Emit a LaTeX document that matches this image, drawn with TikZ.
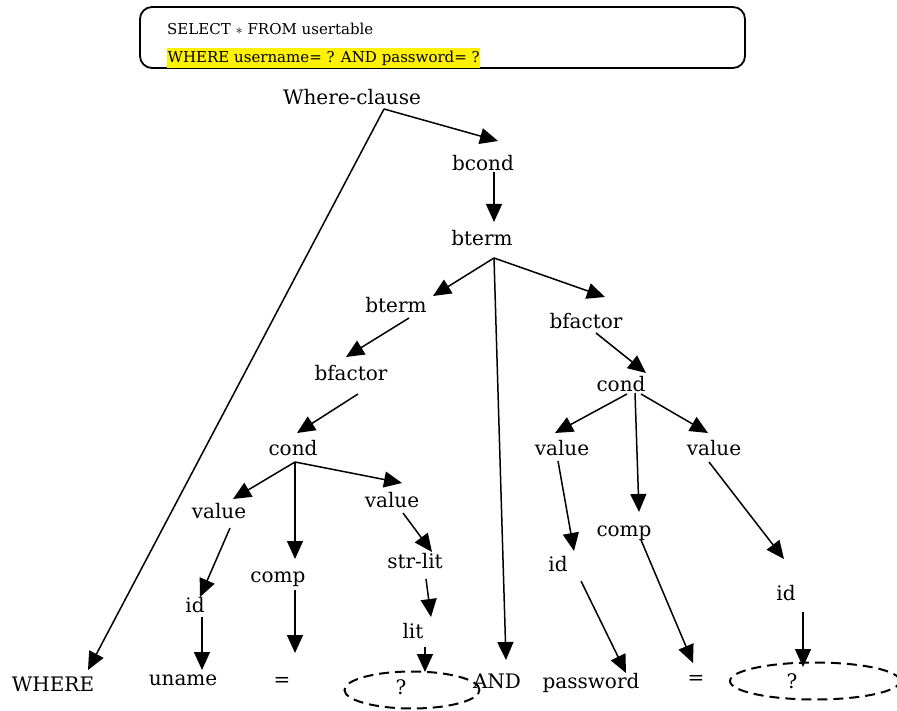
\documentclass[tikz,border=0pt]{standalone}
\usepackage{fontspec}
\setmainfont{DejaVu Serif}
\usetikzlibrary{arrows.meta,shapes.geometric}
\tikzset{
	lbl/.style={font=\fontsize{20}{24}\selectfont, inner sep=0pt, text height=1.5ex, text depth=.3ex},
	sql/.style={font=\fontsize{15}{18}\selectfont, inner sep=1pt, anchor=west},
	arr/.style={-{Triangle[length=18pt,width=16pt]}, line width=1.5pt},
	hole/.style={draw, ellipse, dashed, dash pattern=on 10pt off 6pt, line width=2pt, inner sep=0pt}
}
\begin{document}
\begin{tikzpicture}[x=1pt,y=-1pt]
	\useasboundingbox (0,0) rectangle (897,711);
	% query box
	\node[draw, rounded corners=12pt, line width=1.8pt, minimum width=605pt, minimum height=61pt] (query) at (442.5,37.5) {};
	\node[sql] (sel) at (166,29) {SELECT $\ast$ FROM usertable};
	\node[sql, fill=yellow, inner xsep=0.5pt, inner ysep=2.5pt] (whr) at (167,58) {WHERE username= ? AND password= ?};
	% tree
	\node[lbl] (wc) at (352,101) {Where-clause};
	\node[lbl] (bcond) at (483,167) {bcond};
	\node[lbl] (bt) at (482,242) {bterm};
	\node[lbl] (btl) at (396,309) {bterm};
	\node[lbl] (bfr) at (586,325) {bfactor};
	\node[lbl] (bfl) at (351,377) {bfactor};
	\node[lbl] (condr) at (621,388) {cond};
	\node[lbl] (condl) at (293,452) {cond};
	\node[lbl] (valrl) at (562,452) {value};
	\node[lbl] (valrr) at (714,452) {value};
	\node[lbl] (valll) at (219,515) {value};
	\node[lbl] (vallr) at (392,504) {value};
	\node[lbl] (compr) at (624,533) {comp};
	\node[lbl] (idrl) at (558,568) {id};
	\node[lbl] (strlit) at (415,565) {str-lit};
	\node[lbl] (compl) at (278,579) {comp};
	\node[lbl] (idl) at (195,609) {id};
	\node[lbl] (idrr) at (786,597) {id};
	\node[lbl] (lit) at (413,635) {lit};
	% leaves
	\node[lbl] (where) at (53,688) {WHERE};
	\node[lbl] (uname) at (183,682) {uname};
	\node[lbl] (eql) at (282,683) {=};
	\node[hole, minimum width=135pt, minimum height=37pt] (qa) at (412,690) {};
	\node[lbl] (qma) at (401,691) {?};
	\node[lbl] (and) at (497,685) {AND};
	\node[lbl] (pw) at (591,685) {password};
	\node[lbl] (eqr) at (696,681) {=};
	\node[hole, minimum width=170pt, minimum height=37pt] (qb) at (815,681) {};
	\node[lbl] (qmb) at (792,685) {?};
	% connectors
	\draw [arr] ([shift={(32,8)}]wc.center) -- ([shift={(15,-26)}]bcond.center);
	\draw [arr] ([shift={(32,8)}]wc.center) -- ([shift={(35,-18)}]where.center);
	\draw [arr] ([shift={(11,5)}]bcond.center) -- ([shift={(12,-20)}]bt.center);
	\draw [arr] ([shift={(12,16)}]bt.center) -- ([shift={(37,-13)}]btl.center);
	\draw [arr] ([shift={(12,16)}]bt.center) -- ([shift={(9,-25)}]and.center);
	\draw [arr] ([shift={(12,16)}]bt.center) -- ([shift={(19,-28)}]bfr.center);
	\draw [arr] ([shift={(13,9)}]btl.center) -- ([shift={(-5,-20)}]bfl.center);
	\draw [arr] ([shift={(7,17)}]bfl.center) -- ([shift={(4,-19)}]condl.center);
	\draw [arr] ([shift={(10,8)}]bfr.center) -- ([shift={(25,-15)}]condr.center);
	\draw [arr] ([shift={(2,10)}]condl.center) -- ([shift={(14,-16)}]valll.center);
	\draw [arr] ([shift={(2,10)}]condl.center) -- ([shift={(17,-20)}]compl.center);
	\draw [arr] ([shift={(2,10)}]condl.center) -- ([shift={(10,-21)}]vallr.center);
	\draw [arr] ([shift={(6,6)}]condr.center) -- ([shift={(-7,-19)}]valrl.center);
	\draw [arr] ([shift={(14,5)}]condr.center) -- ([shift={(15,-21)}]compr.center);
	\draw [arr] ([shift={(20,6)}]condr.center) -- ([shift={(-6,-19)}]valrr.center);
	\draw [arr] ([shift={(11,13)}]valll.center) -- ([shift={(5,-12)}]idl.center);
	\draw [arr] ([shift={(7,8)}]idl.center) -- ([shift={(19,-12)}]uname.center);
	\draw [arr] ([shift={(17,11)}]compl.center) -- ([shift={(13,-30)}]eql.center);
	\draw [arr] ([shift={(11,9)}]vallr.center) -- ([shift={(17,-13)}]strlit.center);
	\draw [arr] ([shift={(11,14)}]strlit.center) -- ([shift={(18,-18)}]lit.center);
	\draw [arr] ([shift={(12,12)}]lit.center) -- ([shift={(13,-18)}]qa.center);
	\draw [arr] ([shift={(-4,9)}]valrl.center) -- ([shift={(16,-17)}]idrl.center);
	\draw [arr] ([shift={(-5,10)}]valrr.center) -- ([shift={(-2,-38)}]idrr.center);
	\draw [arr] ([shift={(23,13)}]idrl.center) -- ([shift={(35,-12)}]pw.center);
	\draw [arr] ([shift={(17,7)}]compr.center) -- ([shift={(-3,-18)}]eqr.center);
	\draw [arr] ([shift={(17,15)}]idrr.center) -- ([shift={(-12,-14)}]qb.center);
\end{tikzpicture}
\end{document}
